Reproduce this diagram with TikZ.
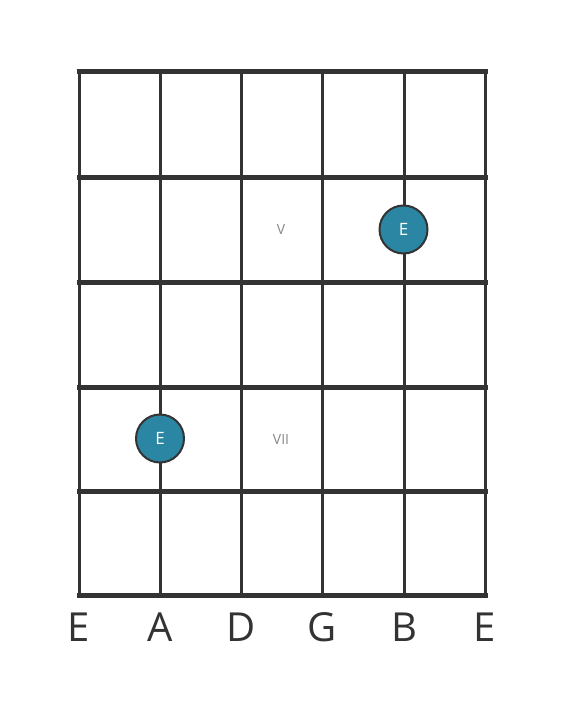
\documentclass[tikz,border=0pt]{standalone}
\usepackage{fontspec}
\setmainfont{Open Sans}
\definecolor{ink}{HTML}{333333}
\definecolor{dotfill}{HTML}{2A86A2}
\definecolor{roman}{HTML}{888888}
\begin{document}
\begin{tikzpicture}[x=1pt,y=-1pt,
  fretline/.style={draw=ink,line width=5pt},
  stringline/.style={draw=ink,line width=3pt},
  notedot/.style={circle,draw=ink,line width=2pt,fill=dotfill,minimum size=48pt,inner sep=0pt,text=white,font=\fontsize{17pt}{17pt}\selectfont},
  strlabel/.style={text=ink,font=\fontsize{40pt}{40pt}\selectfont,inner sep=0pt},
  fretmark/.style={text=roman,font=\fontsize{14pt}{14pt}\selectfont,inner sep=0pt}]
\useasboundingbox (0,0) rectangle (566,711);
\fill[white] (0,0) rectangle (566,711);
\foreach \i/\x in {0/79,1/160,2/241,3/322,4/404,5/485}{
  \coordinate (st\i) at (\x,72);
  \coordinate (sb\i) at (\x,595);
  \draw[stringline] (st\i) -- (sb\i);
}
\foreach \j/\y in {0/72,1/178,2/282,3/387,4/491,5/595}{
  \coordinate (fl\j) at (76.5,\y);
  \coordinate (fr\j) at (487.5,\y);
  \draw[fretline] (fl\j) -- (fr\j);
}
\node[fretmark] (m5) at (281,230) {V};
\node[fretmark] (m7) at (281,439) {VII};
\node[notedot] (n1) at (403.5,229.5) {E};
\node[notedot] (n2) at (160,438.5) {E};
\foreach \i/\x/\t in {0/79/E,1/160/A,2/241/D,3/322/G,4/404/B,5/485/E}{
  \node[strlabel,anchor=base] (l\i) at (\x,641) {\t};
}
\end{tikzpicture}
\end{document}
